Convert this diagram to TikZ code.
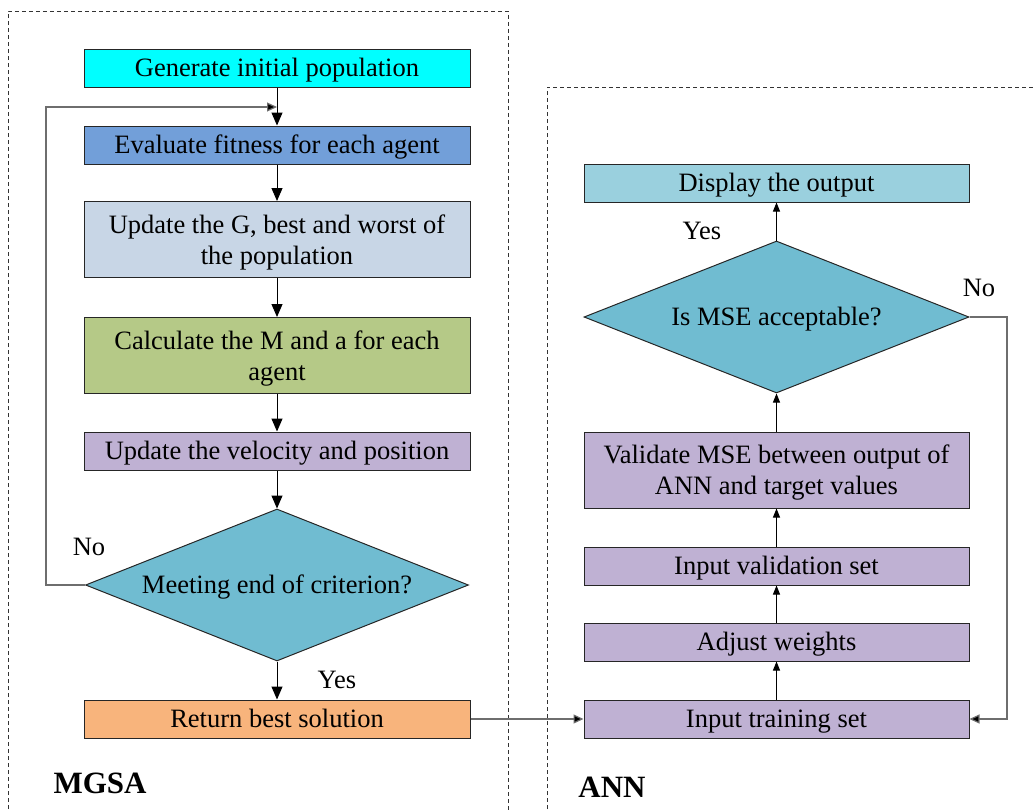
\documentclass[tikz,border=0pt]{standalone}
\usepackage{fontspec}
\setmainfont{Liberation Serif}
\usetikzlibrary{shapes.geometric,arrows.meta}
\definecolor{cgen}{RGB}{0,255,255}
\definecolor{ceval}{RGB}{114,159,217}
\definecolor{cupd}{RGB}{200,214,230}
\definecolor{ccalc}{RGB}{181,201,135}
\definecolor{cpurp}{RGB}{191,177,211}
\definecolor{cdiam}{RGB}{112,188,209}
\definecolor{cret}{RGB}{248,180,124}
\definecolor{cdisp}{RGB}{154,208,222}
\definecolor{cgrayline}{RGB}{110,110,110}
\begin{document}
\begin{tikzpicture}[x=1pt,y=-1pt,
  wordtext/.style={text height=23.6pt, text depth=5.7pt},
  box/.style={draw=black!85, line width=1pt, minimum width=386pt, minimum height=38pt,
    inner sep=0pt, font=\fontsize{26.5}{31}\selectfont, align=center, wordtext},
  tallbox/.style={draw=black!85, line width=1pt, minimum width=386pt, minimum height=76pt,
    inner sep=0pt},
  boxtext/.style={inner sep=0pt, font=\fontsize{26.5}{31}\selectfont, align=center},
  decision/.style={diamond, draw=black!85, line width=1pt, fill=cdiam, minimum width=383pt,
    minimum height=152pt, aspect=2.52, inner sep=0pt, font=\fontsize{26.5}{31}\selectfont, wordtext},
  lbl/.style={font=\fontsize{26.5}{31}\selectfont, inner sep=0pt},
  title/.style={font=\fontsize{31}{36}\selectfont\bfseries, inner sep=0pt},
  bigarrow/.style={line width=1pt, -{Triangle[length=13pt,width=11pt]}},
  smallarrow/.style={line width=1pt, -{Triangle[length=9pt,width=7pt]}},
  grayarrow/.style={line width=1.2pt, draw=cgrayline, -{Triangle[length=10pt,width=9pt,fill=black]}},
  frame/.style={dashed, dash pattern=on 4pt off 3pt, line width=0.9pt, draw=black!80}
]
\useasboundingbox (0,0) rectangle (1036,811);

% dashed frames
\draw[frame] (8,830) -- (8,11) -- (508,11) -- (508,830);
\draw[frame] (547,830) -- (547,87) -- (1050,87);

% MGSA column
\node[box, fill=cgen] (gen) at (277,68) {Generate initial population};
\node[box, fill=ceval] (eval) at (277,145) {Evaluate fitness for each agent};
\node[tallbox, fill=cupd] (updg) at (277,239.5) {};
\node[boxtext] (updgt) at ([yshift=-3pt]updg.center) {Update the G, best and worst of\\the population};
\node[tallbox, fill=ccalc] (calc) at (277,355.5) {};
\node[boxtext] (calct) at ([yshift=-3pt]calc.center) {Calculate the M and a for each\\agent};
\node[box, fill=cpurp] (vel) at (277,451) {Update the velocity and position};
\node[decision] (d1) at (277,585) {Meeting end of criterion?};
\node[box, fill=cret] (ret) at (277,719) {Return best solution};
\coordinate (loopend) at (277,107);

\draw[bigarrow] (gen) -- (eval);
\draw[bigarrow] (eval) -- (updg);
\draw[bigarrow] (updg) -- (calc);
\draw[bigarrow] (calc) -- (vel);
\draw[bigarrow] (vel) -- (d1);
\draw[bigarrow] (d1) -- (ret);
\draw[grayarrow] (d1.west) -- (46,585) |- (loopend);

\node[lbl] (no1) at (89,547) {No};
\node[lbl] (yes1) at (337,680) {Yes};
\node[title] (mgsa) at (100,783) {MGSA};

% ANN column
\node[box, minimum width=385pt, fill=cdisp] (disp) at (776.5,183) {Display the output};
\node[decision, minimum width=385pt] (d2) at (776.5,317) {Is MSE acceptable?};
\node[tallbox, minimum width=385pt, fill=cpurp] (valid) at (776.5,470) {};
\node[boxtext] (validt) at ([yshift=-3pt]valid.center) {Validate MSE between output of\\ANN and target values};
\node[box, minimum width=385pt, fill=cpurp] (inval) at (776.5,566) {Input validation set};
\node[box, minimum width=385pt, fill=cpurp] (adj) at (776.5,642) {Adjust weights};
\node[box, minimum width=385pt, fill=cpurp] (train) at (776.5,719) {Input training set};

\draw[smallarrow] (train) -- (adj);
\draw[smallarrow] (adj) -- (inval);
\draw[smallarrow] (inval) -- (valid);
\draw[smallarrow] (valid) -- (d2);
\draw[smallarrow] (d2) -- (disp);
\draw[grayarrow] (d2.east) -- (1007,317) |- (train.east);
\draw[grayarrow] (ret) -- (train);

\node[lbl] (yes2) at (702,231) {Yes};
\node[lbl] (no2) at (979,288) {No};
\node[title] (ann) at (612,787) {ANN};
\end{tikzpicture}
\end{document}
